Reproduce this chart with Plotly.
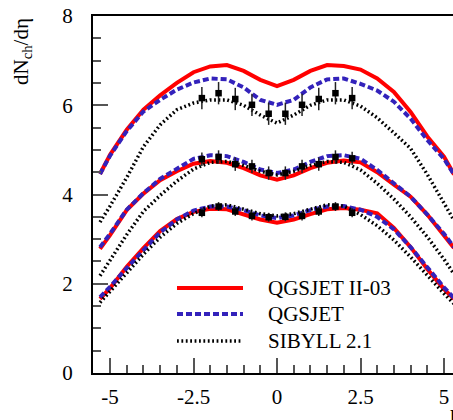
import plotly.graph_objects as go

# ---- model curves (pseudorapidity grid) ----
eta = [-5.3, -5.0, -4.5, -4.0, -3.5, -3.0, -2.5, -2.0, -1.5, -1.0, -0.5, 0.0,
       0.5, 1.0, 1.5, 2.0, 2.5, 3.0, 3.5, 4.0, 4.5, 5.0, 5.3]

# 900 GeV
qgs2_900 = [4.46, 4.89, 5.45, 5.90, 6.22, 6.50, 6.74, 6.87, 6.90, 6.77, 6.57, 6.43,
            6.57, 6.77, 6.90, 6.88, 6.80, 6.60, 6.30, 5.85, 5.30, 4.85, 4.45]
qgs_900 = [4.46, 4.87, 5.42, 5.86, 6.12, 6.35, 6.51, 6.60, 6.58, 6.40, 6.12, 6.01,
           6.12, 6.40, 6.58, 6.60, 6.48, 6.33, 6.08, 5.70, 5.22, 4.80, 4.45]
sib_900 = [3.38, 3.74, 4.38, 5.07, 5.56, 5.90, 6.05, 6.12, 6.12, 6.00, 5.78, 5.60,
           5.78, 6.00, 6.12, 6.12, 5.98, 5.72, 5.38, 5.03, 4.45, 3.80, 3.42]
# 546 GeV
qgs2_546 = [2.78, 3.09, 3.65, 4.02, 4.32, 4.52, 4.69, 4.75, 4.71, 4.59, 4.43, 4.33,
            4.43, 4.59, 4.71, 4.76, 4.72, 4.50, 4.22, 3.95, 3.55, 3.10, 2.80]
qgs_546 = [2.82, 3.12, 3.66, 4.03, 4.35, 4.58, 4.80, 4.88, 4.86, 4.73, 4.56, 4.48,
           4.56, 4.73, 4.86, 4.88, 4.80, 4.55, 4.25, 3.95, 3.55, 3.12, 2.82]
sib_546 = [2.18, 2.52, 3.10, 3.62, 3.98, 4.30, 4.57, 4.72, 4.74, 4.65, 4.52, 4.44,
           4.52, 4.65, 4.74, 4.72, 4.55, 4.25, 3.90, 3.50, 3.05, 2.55, 2.22]
# 200 GeV
qgs2_200 = [1.66, 1.90, 2.38, 2.80, 3.18, 3.45, 3.61, 3.68, 3.67, 3.56, 3.44, 3.37,
            3.44, 3.56, 3.67, 3.70, 3.66, 3.58, 3.25, 2.82, 2.33, 1.88, 1.66]
qgs_200 = [1.70, 1.93, 2.35, 2.76, 3.15, 3.44, 3.64, 3.73, 3.73, 3.65, 3.53, 3.47,
           3.53, 3.65, 3.73, 3.74, 3.66, 3.50, 3.22, 2.82, 2.36, 1.92, 1.68]
sib_200 = [1.58, 1.82, 2.24, 2.66, 3.04, 3.35, 3.57, 3.74, 3.77, 3.67, 3.57, 3.52,
           3.57, 3.67, 3.77, 3.74, 3.55, 3.30, 2.98, 2.60, 2.18, 1.78, 1.55]

# ---- UA5 data ----
eta_data = [-2.25, -1.75, -1.25, -0.75, -0.25, 0.25, 0.75, 1.25, 1.75, 2.25]
data_900 = [6.16, 6.27, 6.14, 6.01, 5.81, 5.81, 6.01, 6.14, 6.27, 6.16]
err_900 = [0.25] * 10
data_546 = [4.79, 4.84, 4.68, 4.63, 4.48, 4.48, 4.63, 4.68, 4.84, 4.81]
err_546 = [0.15] * 10
data_200 = [3.59, 3.73, 3.62, 3.52, 3.49, 3.50, 3.52, 3.62, 3.73, 3.59]
err_200 = [0.10] * 10

legend_names = ["QGSJET II-03", "QGSJET", "SIBYLL 2.1"]
x_tickvals = [-5, -2.5, 0, 2.5, 5]
x_ticktext = ["-5", "-2.5", "0", "2.5", "5"]
y_tickvals = [0, 2, 4, 6, 8]
y_ticktext = ["0", "2", "4", "6", "8"]

RED = "#ff0000"
BLUE = "#3322bb"
BLACK = "#000000"
styles = [
    dict(color=RED, width=4, dash="solid"),
    dict(color=BLUE, width=4, dash="6px,3px"),
    dict(color=BLACK, width=3.5, dash="1.8px,2.6px"),
]

fig = go.Figure()
sets = [
    (qgs2_900, qgs_900, sib_900),
    (qgs2_546, qgs_546, sib_546),
    (qgs2_200, qgs_200, sib_200),
]
for k in range(3):
    for s in sets:
        fig.add_trace(go.Scatter(x=eta, y=s[k], mode="lines", line=styles[k],
                                 showlegend=False, hoverinfo="skip"))

for d, e in [(data_900, err_900), (data_546, err_546), (data_200, err_200)]:
    fig.add_trace(go.Scatter(
        x=eta_data, y=d, mode="markers",
        marker=dict(symbol="square", size=6.5, color="black"),
        error_y=dict(type="data", array=e, color="#222222", thickness=1.5, width=0),
        showlegend=False))

FONT = "Liberation Serif"
L, R, T, B = 93, 0, 16, 47
W, H = 453, 420
pw, ph = W - L - R, H - T - B

def px(xp):
    return (xp - L) / pw

def py(yp):
    return (H - B - yp) / ph

# manual legend
rows = [288, 314, 341]
for name, st, yr in zip(legend_names, styles, rows):
    fig.add_shape(type="line", xref="paper", yref="paper",
                  x0=px(177), x1=px(243), y0=py(yr), y1=py(yr),
                  line=dict(color=st["color"], width=st["width"], dash=st["dash"]))
    fig.add_annotation(xref="paper", yref="paper", x=px(266), y=py(yr),
                       text=name, showarrow=False, xanchor="left", yanchor="middle",
                       font=dict(family=FONT, size=21, color="black"))

# axis titles
fig.add_annotation(xref="paper", yref="paper", x=px(22), y=py(52),
                   text="dN<sub>ch</sub>/dη", textangle=-90, showarrow=False,
                   xanchor="center", yanchor="middle",
                   font=dict(family=FONT, size=21, color="black"))
fig.add_annotation(xref="paper", yref="paper", x=px(448), y=py(412),
                   text="η", showarrow=False, xanchor="left", yanchor="middle",
                   font=dict(family=FONT, size=22, color="black"))

tickfont = dict(family=FONT, size=21, color="black")
fig.update_layout(
    width=W, height=H,
    margin=dict(l=L, r=R, t=T, b=B, pad=0),
    paper_bgcolor="white", plot_bgcolor="white",
    font=dict(family=FONT, size=21, color="black"),
    xaxis=dict(range=[-5.51, 5.27], showgrid=False, zeroline=False,
               tickvals=x_tickvals, ticktext=x_ticktext, tickfont=tickfont,
               ticks="inside", ticklen=15, tickwidth=1.5, tickcolor="#555",
               minor=dict(dtick=0.5, tick0=0, ticks="inside", ticklen=8,
                          tickwidth=1.5, tickcolor="#555", showgrid=False),
               showline=True, linecolor="black", linewidth=2, mirror=True,
               ticklabelstandoff=4),
    yaxis=dict(range=[0, 8], showgrid=False, zeroline=False,
               tickvals=y_tickvals, ticktext=y_ticktext, tickfont=tickfont,
               ticks="inside", ticklen=15, tickwidth=1.5, tickcolor="#555",
               minor=dict(dtick=0.5, tick0=0, ticks="inside", ticklen=8,
                          tickwidth=1.5, tickcolor="#555", showgrid=False),
               showline=True, linecolor="black", linewidth=2,
               ticklabelstandoff=14),
)

fig.write_html("out.html", config={"displayModeBar": False},
               post_script="document.body.style.margin='0';document.body.style.overflow='hidden';")
